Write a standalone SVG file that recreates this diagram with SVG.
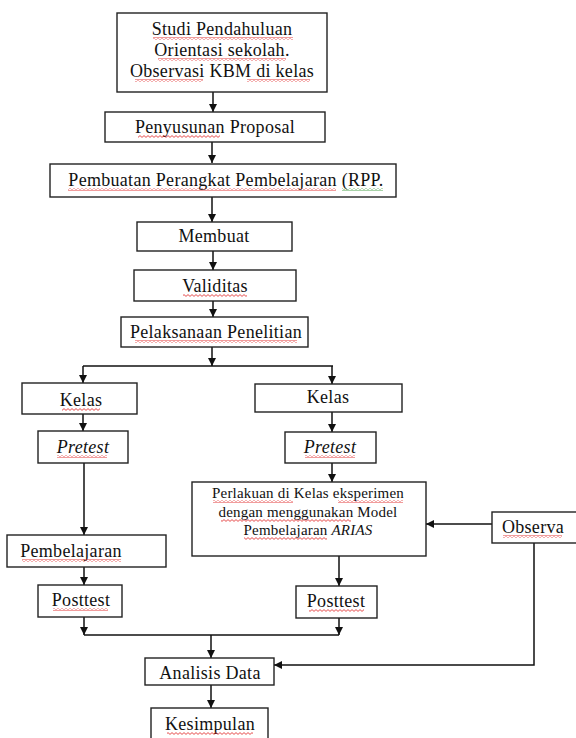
<svg xmlns="http://www.w3.org/2000/svg" width="576" height="738" viewBox="0 0 576 738">
<defs>
<style>
.box{fill:#fff;stroke:#222;stroke-width:1.4}
.t{font-family:"Liberation Serif","Times New Roman",serif;font-size:18px;letter-spacing:0.3px;fill:#111;text-anchor:middle}
.s{font-size:15px;letter-spacing:0.2px}
.i{font-style:italic}
.ln{fill:none;stroke:#111;stroke-width:1.5}
.sq{fill:url(#squig)}
.sg{fill:url(#squigG)}
</style>
<marker id="ah" viewBox="0 0 10 10" refX="10" refY="5" markerWidth="8" markerHeight="8" markerUnits="userSpaceOnUse" orient="auto">
<path d="M0,0 L10,5 L0,10 z" fill="#111"/>
</marker>
<pattern id="squig" width="4" height="3" patternUnits="userSpaceOnUse">
<path d="M0,0.6 L2,2.4 L4,0.6" fill="none" stroke="#e02020" stroke-width="0.8"/>
</pattern>
<pattern id="squigG" width="4" height="3" patternUnits="userSpaceOnUse">
<path d="M0,0.6 L2,2.4 L4,0.6" fill="none" stroke="#3a9a3a" stroke-width="0.8"/>
</pattern>
</defs>

<g id="connectors">
<line class="ln" x1="213" y1="92" x2="213" y2="112" marker-end="url(#ah)"/>
<line class="ln" x1="212" y1="142" x2="212" y2="163" marker-end="url(#ah)"/>
<line class="ln" x1="212" y1="197" x2="212" y2="222" marker-end="url(#ah)"/>
<line class="ln" x1="213" y1="251" x2="213" y2="270" marker-end="url(#ah)"/>
<line class="ln" x1="213" y1="301" x2="213" y2="317" marker-end="url(#ah)"/>
<line class="ln" x1="212" y1="347" x2="212" y2="366" marker-end="url(#ah)"/>
<line class="ln" x1="83" y1="366" x2="333" y2="366"/>
<line class="ln" x1="83" y1="366" x2="83" y2="383" marker-end="url(#ah)"/>
<line class="ln" x1="332" y1="366" x2="332" y2="384" marker-end="url(#ah)"/>
<line class="ln" x1="83" y1="414" x2="83" y2="431" marker-end="url(#ah)"/>
<line class="ln" x1="332" y1="412" x2="332" y2="432" marker-end="url(#ah)"/>
<line class="ln" x1="84" y1="463" x2="84" y2="535" marker-end="url(#ah)"/>
<line class="ln" x1="332" y1="463" x2="332" y2="482" marker-end="url(#ah)"/>
<line class="ln" x1="84" y1="567" x2="84" y2="585" marker-end="url(#ah)"/>
<line class="ln" x1="339" y1="556" x2="339" y2="586" marker-end="url(#ah)"/>
<line class="ln" x1="492" y1="524" x2="426" y2="524" marker-end="url(#ah)"/>
<line class="ln" x1="84" y1="617" x2="84" y2="635" marker-end="url(#ah)"/>
<line class="ln" x1="339" y1="618" x2="339" y2="635" marker-end="url(#ah)"/>
<line class="ln" x1="84" y1="635" x2="339" y2="635"/>
<line class="ln" x1="211" y1="635" x2="211" y2="658" marker-end="url(#ah)"/>
<polyline class="ln" points="534,543 534,665 274,665" marker-end="url(#ah)"/>
<line class="ln" x1="211" y1="685" x2="211" y2="708" marker-end="url(#ah)"/>
</g>

<g id="n-studi">
<rect class="box" x="117" y="13" width="210" height="79"/>
<text class="t" x="222" y="35">Studi Pendahuluan</text>
<text class="t" x="222" y="56">Orientasi sekolah.</text>
<text class="t" x="222" y="77">Observasi KBM di kelas</text>
<rect class="sq" x="153" y="37" width="140" height="3"/>
<rect class="sq" x="158" y="58" width="128" height="3"/>
<rect class="sq" x="135" y="79" width="68" height="3"/>
<rect class="sq" x="247" y="79" width="63" height="3"/>
</g>

<g id="n-proposal">
<rect class="box" x="105" y="112" width="220" height="30"/>
<text class="t" x="215" y="133">Penyusunan Proposal</text>
<rect class="sq" x="138" y="135" width="82" height="3"/>
</g>

<g id="n-rpp">
<rect class="box" x="50" y="164" width="346" height="33"/>
<text class="t" x="226" y="186">Pembuatan Perangkat Pembelajaran (RPP.</text>
<rect class="sq" x="68" y="188" width="268" height="3"/>
<rect class="sg" x="342" y="188" width="41" height="3"/>
</g>

<g id="n-membuat">
<rect class="box" x="137" y="222" width="155" height="29"/>
<text class="t" x="214" y="242">Membuat</text>
</g>

<g id="n-validitas">
<rect class="box" x="134" y="270" width="162" height="31"/>
<text class="t" x="215" y="292">Validitas</text>
<rect class="sq" x="183" y="294" width="64" height="3"/>
</g>

<g id="n-pelaksanaan">
<rect class="box" x="121" y="317" width="187" height="30"/>
<text class="t" x="216" y="338">Pelaksanaan Penelitian</text>
<rect class="sq" x="135" y="340" width="162" height="3"/>
</g>

<g id="n-kelas-kiri">
<rect class="box" x="22" y="383" width="115" height="31"/>
<text class="t" x="81" y="406">Kelas</text>
<rect class="sq" x="62" y="408" width="38" height="3"/>
</g>

<g id="n-pretest-kiri">
<rect class="box" x="38" y="431" width="90" height="32"/>
<text class="t i" x="83" y="453">Pretest</text>
<rect class="sq" x="57" y="455" width="50" height="3"/>
</g>

<g id="n-kelas-kanan">
<rect class="box" x="255" y="384" width="147" height="28"/>
<text class="t" x="328" y="403">Kelas</text>
</g>

<g id="n-pretest-kanan">
<rect class="box" x="285" y="432" width="91" height="31"/>
<text class="t i" x="330" y="453">Pretest</text>
<rect class="sq" x="305" y="455" width="50" height="3"/>
</g>

<g id="n-perlakuan">
<rect class="box" x="192" y="482" width="234" height="74"/>
<text class="t s" x="308" y="498">Perlakuan di Kelas eksperimen</text>
<text class="t s" x="308" y="517">dengan menggunakan Model</text>
<text class="t s" x="308" y="535">Pembelajaran <tspan font-style="italic">ARIAS</tspan></text>
<rect class="sq" x="213" y="500" width="80" height="3"/>
<rect class="sq" x="338" y="500" width="65" height="3"/>
<rect class="sq" x="221" y="519" width="130" height="3"/>
<rect class="sq" x="244" y="537" width="83" height="3"/>
</g>

<g id="n-observa">
<rect class="box" x="492" y="512" width="90" height="31"/>
<text class="t" x="533" y="533">Observa</text>
<rect class="sq" x="503" y="535" width="59" height="3"/>
</g>

<g id="n-pembelajaran">
<rect class="box" x="7" y="535" width="159" height="32"/>
<text class="t" x="71" y="557">Pembelajaran</text>
<rect class="sq" x="22" y="559" width="99" height="3"/>
</g>

<g id="n-posttest-kiri">
<rect class="box" x="38" y="585" width="84" height="32"/>
<text class="t" x="81" y="606">Posttest</text>
<rect class="sq" x="53" y="608" width="55" height="3"/>
</g>

<g id="n-posttest-kanan">
<rect class="box" x="296" y="586" width="81" height="32"/>
<text class="t" x="336" y="607">Posttest</text>
<rect class="sq" x="309" y="609" width="55" height="3"/>
</g>

<g id="n-analisis">
<rect class="box" x="145" y="658" width="129" height="27"/>
<text class="t" x="210" y="679">Analisis Data</text>
</g>

<g id="n-kesimpulan">
<rect class="box" x="151" y="708" width="117" height="40"/>
<text class="t" x="210" y="730">Kesimpulan</text>
<rect class="sq" x="167" y="732" width="86" height="3"/>
</g>
</svg>
